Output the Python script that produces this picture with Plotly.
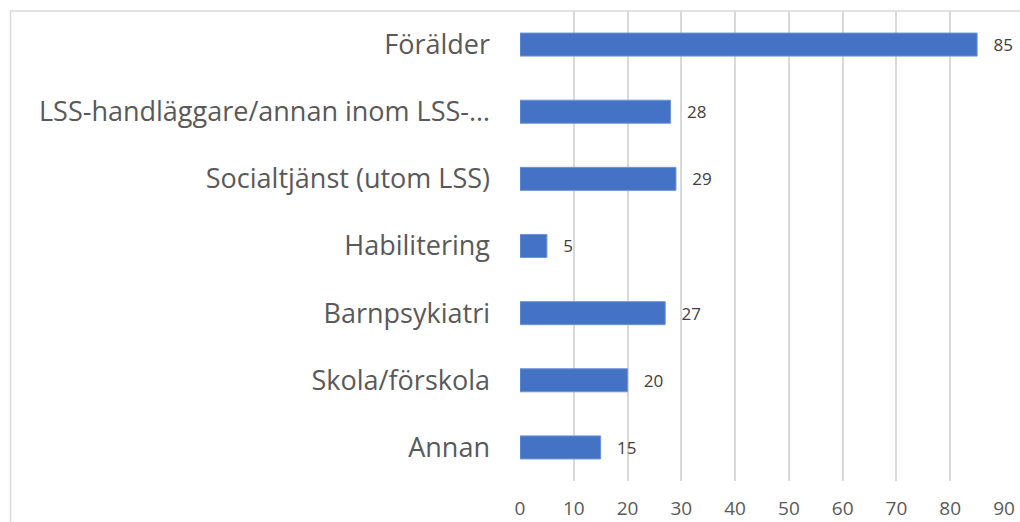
import plotly.graph_objects as go

categories = ["Förälder", "LSS-handläggare/annan inom LSS-…", "Socialtjänst (utom LSS)",
              "Habilitering", "Barnpsykiatri", "Skola/förskola", "Annan"]
values = [85, 28, 29, 5, 27, 20, 15]
x_ticks = [0, 10, 20, 30, 40, 50, 60, 70, 80, 90]

W, H = 1020, 522
L, R, T, B = 520, 16, 11, 41
pw = W - L - R
ph = H - T - B

fig = go.Figure(go.Bar(
    x=values, y=categories, orientation="h",
    marker=dict(color="#4472C4", line=dict(color="#6f94d6", width=1)),
    texttemplate="\u00a0\u00a0\u00a0%{x}", textposition="outside",
    textfont=dict(family="Open Sans", size=20, color="#404040"),
    cliponaxis=False,
))

def px_x(p):
    return (p - L) / pw

def px_y(p):
    return (H - B - p) / ph

fig.update_layout(
    width=W, height=H,
    margin=dict(l=L, r=R, t=T, b=B),
    paper_bgcolor="white", plot_bgcolor="white",
    bargap=0.657,
    showlegend=False,
    xaxis=dict(range=[0, 90], tickvals=x_ticks, showgrid=True, gridcolor="#d9d9d9", gridwidth=1.5,
               zeroline=False, showline=False, ticks="", automargin=False,
               tickfont=dict(family="Open Sans", size=19, color="#595959"),
               ticklabelstandoff=14, fixedrange=True),
    yaxis=dict(autorange="reversed", showgrid=False, zeroline=False, showline=False, ticks="",
               automargin=False,
               tickfont=dict(family="Open Sans", size=27, color="#595959"),
               ticklabelstandoff=29, fixedrange=True),
    shapes=[dict(type="path", xref="paper", yref="paper",
                 path=f"M {px_x(10.5)} {px_y(522)} L {px_x(10.5)} {px_y(11)} L {px_x(1020)} {px_y(11)}",
                 line=dict(color="#d9d9d9", width=1.5))],
)

fig.write_html("out.html", config={"displayModeBar": False},
               post_script="document.body.style.margin='0';document.body.style.overflow='hidden';")
